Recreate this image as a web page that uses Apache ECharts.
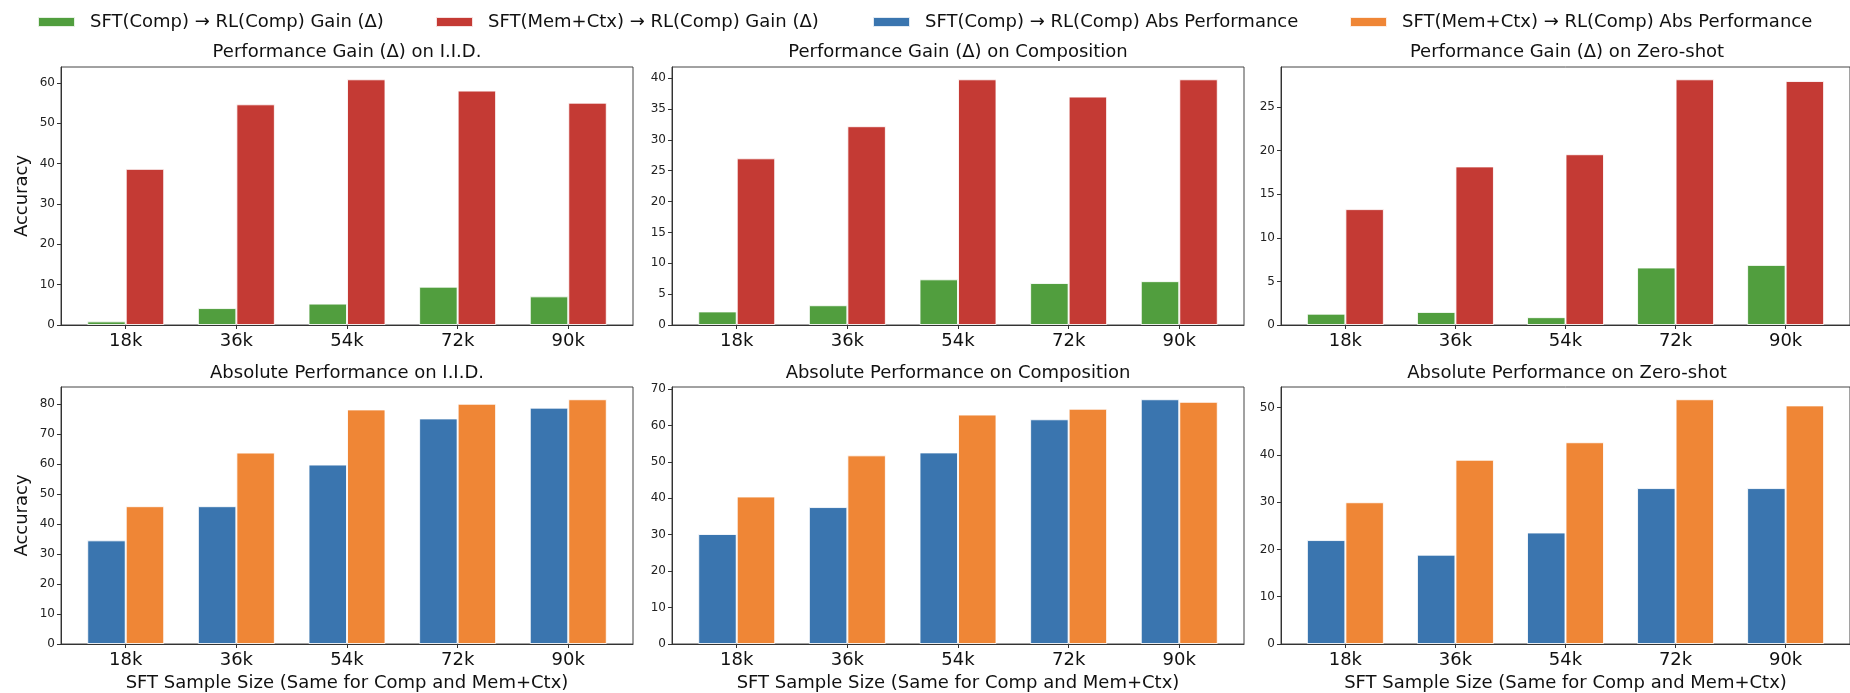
<!DOCTYPE html>
<html>
<head>
<meta charset="utf-8">
<script src="https://cdn.jsdelivr.net/npm/echarts@6/dist/echarts.min.js"></script>
<style>
  html,body{margin:0;padding:0;background:#fff}
  #main{width:1850px;height:693px}
</style>
</head>
<body>
<div id="main"></div>
<script>
// categories (SFT sample size)
var sizes = ['18k','36k','54k','72k','90k']

// top row: gain (delta)
var gainIidComp  = [0.9, 4.2, 5.3, 9.5, 7.1]
var gainIidMem   = [38.7, 54.7, 60.9, 58.1, 55.1]
var gainCompComp = [2.2, 3.2, 7.4, 6.8, 7.1]
var gainCompMem  = [27.0, 32.2, 39.8, 37.0, 39.8]
var gainZeroComp = [1.3, 1.5, 0.9, 6.6, 6.9]
var gainZeroMem  = [13.3, 18.2, 19.6, 28.2, 28.0]

// bottom row: absolute performance
var absIidComp  = [34.6, 46.0, 59.9, 75.3, 78.9]
var absIidMem   = [46.0, 63.9, 78.3, 80.2, 81.7]
var absCompComp = [30.2, 37.6, 52.6, 61.7, 67.2]
var absCompMem  = [40.5, 51.8, 63.0, 64.6, 66.5]
var absZeroComp = [22.0, 18.9, 23.6, 33.0, 33.0]
var absZeroMem  = [30.0, 39.0, 42.7, 51.8, 50.5]

// y tick labels
var ticksGainIid  = [0,10,20,30,40,50,60]
var ticksGainComp = [0,5,10,15,20,25,30,35,40]
var ticksGainZero = [0,5,10,15,20,25]
var ticksAbsIid   = [0,10,20,30,40,50,60,70,80]
var ticksAbsComp  = [0,10,20,30,40,50,60,70]
var ticksAbsZero  = [0,10,20,30,40,50]

var titles = [
  'Performance Gain (Δ) on I.I.D.',
  'Performance Gain (Δ) on Composition',
  'Performance Gain (Δ) on Zero-shot',
  'Absolute Performance on I.I.D.',
  'Absolute Performance on Composition',
  'Absolute Performance on Zero-shot'
]
var names = [
  'SFT(Comp) → RL(Comp) Gain (Δ)',
  'SFT(Mem+Ctx) → RL(Comp) Gain (Δ)',
  'SFT(Comp) → RL(Comp) Abs Performance',
  'SFT(Mem+Ctx) → RL(Comp) Abs Performance'
]
var colors = ['#519e3e','#c43a34','#3a75af','#ef8636']

var FONT = 'DejaVu Sans'
var panels = [
  {a:gainIidComp, b:gainIidMem, ticks:ticksGainIid, na:0, nb:1},
  {a:gainCompComp, b:gainCompMem, ticks:ticksGainComp, na:0, nb:1},
  {a:gainZeroComp, b:gainZeroMem, ticks:ticksGainZero, na:0, nb:1},
  {a:absIidComp, b:absIidMem, ticks:ticksAbsIid, na:2, nb:3},
  {a:absCompComp, b:absCompMem, ticks:ticksAbsComp, na:2, nb:3},
  {a:absZeroComp, b:absZeroMem, ticks:ticksAbsZero, na:2, nb:3}
]
var lefts = [61, 672, 1281]
var W = 572
var tops = [67, 387]
var H = [258, 257]
var barW = 38.5

var chart = echarts.init(document.getElementById('main'))
var grid = [], xAxis = [], yAxis = [], series = [], title = []
var catIdx = sizes.map((s,i)=>i)

panels.forEach((p,k)=>{
  var col = k % 3, row = Math.floor(k/3)
  grid.push({
    left: lefts[col], top: tops[row], width: W, height: H[row],
    show: true, borderColor: '#444', borderWidth: 1, containLabel: false
  })
  title.push({
    text: titles[k],
    left: lefts[col] + W/2, top: row ? 364 : 43,
    textAlign: 'center', padding: 0,
    textStyle: {fontFamily: FONT, fontSize: 18, fontWeight: 'normal', color: '#111'}
  })
  xAxis.push({
    type: 'value', gridIndex: k, min: -0.585, max: 4.585,
    splitLine: {show: false},
    axisLine: {show: true, onZero: false, lineStyle: {color: '#333', width: 1}},
    axisTick: {show: true, length: 4, customValues: catIdx, lineStyle: {color: '#333'}},
    axisLabel: {
      customValues: catIdx, margin: 7,
      formatter: (v)=>sizes[Math.round(v)],
      fontFamily: FONT, fontSize: 18, color: '#111'
    },
    name: row ? 'SFT Sample Size (Same for Comp and Mem+Ctx)' : '',
    nameLocation: 'middle', nameGap: 30,
    nameTextStyle: {fontFamily: FONT, fontSize: 18, color: '#111'}
  })
  yAxis.push({
    type: 'value', gridIndex: k, min: 0, max: (e)=>e.max*1.05,
    splitLine: {show: false},
    axisLine: {show: true, onZero: false, lineStyle: {color: '#333', width: 1}},
    axisTick: {show: true, length: 4, customValues: p.ticks, lineStyle: {color: '#333'}},
    axisLabel: {
      customValues: p.ticks, margin: 6,
      fontFamily: FONT, fontSize: 12, color: '#222'
    },
    name: col === 0 ? 'Accuracy' : '',
    nameLocation: 'middle', nameGap: 30,
    nameTextStyle: {fontFamily: FONT, fontSize: 18, color: '#111'}
  })
  ;[[p.a,p.na],[p.b,p.nb]].forEach((s)=>{
    series.push({
      name: names[s[1]], type: 'bar',
      xAxisIndex: k, yAxisIndex: k,
      barWidth: barW, barGap: '0%',
      itemStyle: {color: colors[s[1]], borderColor: 'rgba(255,255,255,0.85)', borderWidth: 1},
      data: s[0].map((v,i)=>[i, v])
    })
  })
})

var legendLefts = [37, 435, 872, 1349]
var legend = names.map((n,i)=>({
  data: [n], left: legendLefts[i], top: 13,
  itemWidth: 37, itemHeight: 10, itemGap: 0,
  icon: 'rect', padding: 0,
  textStyle: {fontFamily: FONT, fontSize: 18, color: '#111', padding: [0,0,0,10]}
}))

chart.setOption({
  animation: false,
  color: colors,
  title: title,
  legend: legend,
  grid: grid,
  xAxis: xAxis,
  yAxis: yAxis,
  series: series
})
</script>
</body>
</html>
